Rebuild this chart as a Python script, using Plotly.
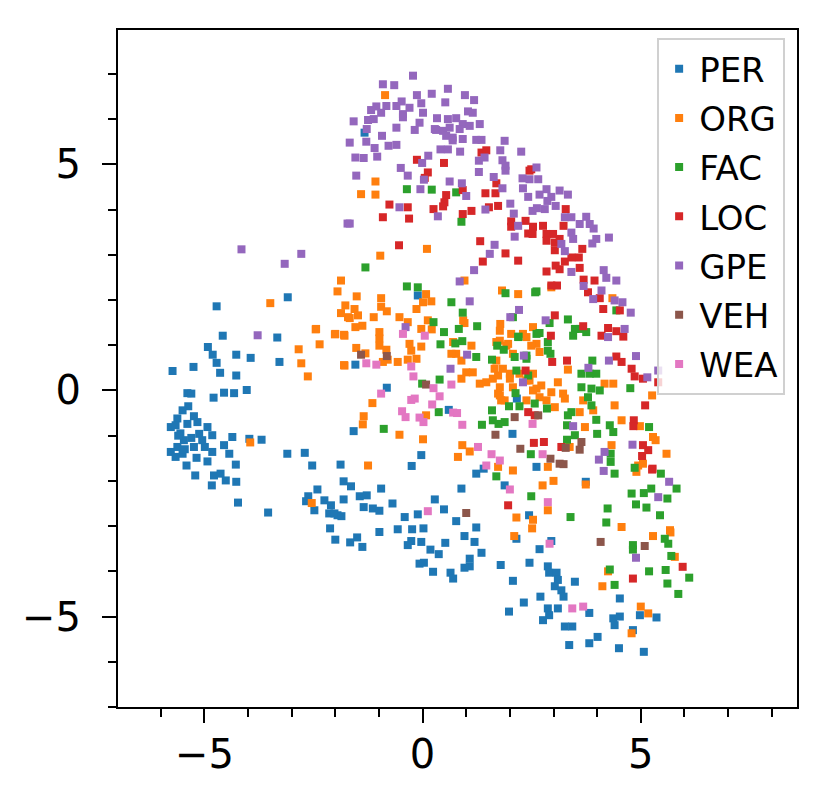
import plotly.graph_objects as go

# entity-type embedding (2D projection)
categories = ["PER", "ORG", "FAC", "LOC", "GPE", "VEH", "WEA"]
colors = ["#1f77b4", "#ff7f0e", "#2ca02c", "#d62728", "#9467bd", "#8c564b", "#e377c2"]

per_pts = [
    (-4.72, 1.86), (-3.09, 2.06), (-4.58, 1.21), (-3.33, 1.17), (-4.92, 0.96), (-4.81, 0.79), (-4.72, 0.61),
    (-4.27, 0.79), (-3.94, 0.72), (-3.28, 0.63), (-5.73, 0.43), (-5.25, 0.52), (-4.64, 0.39), (-4.27, 0.33),
    (-4.03, 0.01), (-4.32, -0.06), (-4.55, -0.05), (-4.79, -0.16), (-5.39, -0.06), (-5.30, -0.07), (-5.37, -0.35),
    (-5.50, -0.44), (-5.24, -0.57), (-5.62, -0.62), (-5.77, -0.81), (-5.66, -0.77), (-5.39, -0.74), (-5.16, -0.70),
    (-4.93, -0.81), (-5.12, -0.96), (-4.82, -0.99), (-5.47, -1.10), (-5.62, -1.25), (-5.77, -1.36), (-5.50, -1.40),
    (-5.66, -1.47), (-5.24, -1.25), (-4.99, -1.25), (-4.82, -1.36), (-5.18, -1.49), (-4.93, -1.57), (-5.41, -1.66),
    (-5.21, -1.88), (-4.78, -1.88), (-4.63, -1.84), (-4.83, -2.10), (-4.51, -1.99), (-4.27, -2.02), (-4.55, -1.21),
    (-4.36, -1.03), (-4.43, -1.40), (-4.28, -1.64), (-3.97, -1.07), (-3.69, -1.09), (-4.23, -2.48), (-3.54, -2.70),
    (-3.10, -1.40), (-2.70, -1.38), (-2.53, -1.66), (-1.88, -1.64), (-2.41, -2.19), (-2.62, -2.34), (-2.25, -2.43),
    (-2.10, -2.54), (-2.48, -2.65), (-2.14, -2.72), (-1.95, -2.76), (-1.81, -2.41), (-1.81, -2.01), (-2.12, -3.05),
    (-5.55, -0.95), (-5.30, -1.05), (-5.45, -1.30), (-5.05, -1.10), (-5.60, -1.00),
    (-1.33, 5.70), (-0.11, 2.10), (-1.54, 0.57), (-0.82, 0.06), (0.60, -0.43), (-1.58, -0.90), (2.16, -0.18),
    (2.06, -0.96), (-1.64, -2.12), (-0.95, -2.17), (-0.03, -1.43), (-0.25, -1.67), (1.23, -1.84), (1.40, -1.73),
    (0.89, -2.17), (1.88, -2.10), (2.61, -1.69), (3.74, -2.02), (2.44, -2.76),
    (-1.44, -2.34), (-1.28, -2.32), (-2.67, -2.45), (-2.02, -2.72), (-1.86, -2.78), (-1.35, -2.58), (-1.14, -2.61),
    (-0.99, -2.66), (-0.69, -2.50), (-2.00, -3.30), (-1.66, -3.36), (-1.50, -3.25), (-1.38, -3.46), (-0.99, -3.13),
    (-0.41, -2.80), (-0.11, -2.74), (0.28, -2.41), (0.49, -2.63), (-0.57, -3.07), (-0.24, -3.07), (0.02, -3.05),
    (-0.26, -3.33), (-0.34, -3.42), (-0.03, -3.35), (0.18, -3.52), (0.37, -3.62), (0.52, -3.37), (0.77, -2.89),
    (0.96, -3.22), (1.23, -3.03), (1.19, -3.35), (1.35, -3.59), (1.08, -3.72), (1.08, -3.89), (0.96, -3.92),
    (-0.07, -3.83), (0.03, -3.81), (0.24, -4.01), (0.64, -4.03), (0.70, -4.16), (1.79, -3.86), (2.07, -4.21),
    (2.45, -3.81), (2.15, -3.28), (2.68, -3.51), (2.87, -3.89), (2.90, -4.03), (3.07, -4.03), (3.10, -4.19),
    (3.03, -4.33), (3.18, -4.42), (3.23, -4.56), (3.49, -4.23), (2.70, -4.56), (2.32, -4.69), (1.98, -4.89),
    (2.87, -4.82), (3.10, -4.82), (2.90, -4.97), (2.76, -5.08), (3.26, -5.22), (3.43, -5.22), (3.82, -4.92),
    (3.36, -5.63), (3.82, -5.59), (4.01, -5.45), (2.95, -3.33), (4.37, -5.04), (4.52, -5.00), (4.40, -5.19),
    (4.52, -4.60), (4.82, -5.30), (4.98, -4.97), (5.36, -5.02), (4.50, -5.70), (5.07, -5.78),
]

org_pts = [
    (-3.49, 1.93), (-1.87, 2.43), (-1.95, 2.19), (-1.77, 1.88), (-1.87, 1.71), (-2.45, 1.35), (-2.01, 1.24),
    (-1.80, 1.23), (-2.36, 1.02), (-2.84, 0.91), (-2.78, 0.60), (-2.63, 0.31), (-1.80, 0.56), (-3.95, -1.15),
    (-2.54, -2.49),
    (-0.86, 6.53), (-1.08, 4.62), (-1.41, 4.34), (-1.08, 4.33), (-0.97, 2.98), (0.10, 3.13), (-1.51, 2.08),
    (0.96, 2.43), (1.82, 2.21), (2.19, 2.13), (-1.56, 1.80), (-1.71, 1.62), (-1.48, 1.66), (-1.38, 1.43),
    (-1.54, 1.40), (-1.12, 1.62), (-0.95, 2.04), (-0.95, 1.85), (-0.82, 1.75), (-0.53, 1.62), (-0.34, 1.51),
    (-0.14, 1.80), (0.01, 1.95), (0.08, 2.13), (0.20, 1.97), (0.12, 1.55), (-0.03, 1.36), (0.21, 1.35),
    (0.96, 1.49), (1.78, 1.47), (1.77, 1.32), (2.03, 1.25), (-2.44, 1.36), (-2.00, 1.25), (-1.79, 1.21),
    (-0.99, 1.29), (-0.99, 1.15),
    (2.95, 2.28), (4.35, 2.04), (2.30, 1.25),
    (-1.67, 1.60), (-1.52, 0.94), (-1.31, 0.82), (-0.99, 0.99), (-0.83, 0.90), (-0.80, 0.68), (-0.91, 0.63),
    (-1.79, 0.55), (-0.57, 0.63), (-0.34, 0.68), (-0.26, 0.88), (-0.14, 0.70), (-0.30, 1.03), (-0.03, 0.97),
    (-1.15, -0.28), (-1.35, -0.57), (-1.37, -0.75), (-0.53, -0.98), (0.01, -1.08), (0.08, -0.55), (-1.25, -1.66),
    (0.91, -1.21), (1.08, -1.35), (0.81, -1.47), (2.07, -1.77), (1.73, -1.69), (0.70, 1.07), (0.77, 0.81),
    (0.66, 0.81), (1.12, 0.99), (0.89, 0.66), (1.00, 0.40), (0.89, 0.26), (1.15, 0.40), (1.31, 0.15),
    (1.46, 0.18), (1.61, 0.26), (1.73, 0.33), (1.69, 0.66), (1.77, 1.10), (1.92, 0.99), (2.07, 0.81),
    (1.77, 0.07), (2.07, 0.07), (2.00, 0.37), (2.22, 0.37), (2.53, 0.37), (2.38, 0.22), (2.61, 0.04),
    (1.73, -0.07), (1.80, -0.22), (2.38, 1.18), (2.61, 1.03), (2.53, 1.40), (0.93, 1.55),
    (1.69, 1.07), (1.96, 1.03), (2.49, 0.99), (2.68, 0.85), (1.65, 0.48), (1.84, 0.48), (2.00, 0.26),
    (2.45, 0.22), (2.72, 0.11), (2.95, -0.04), (3.10, 0.18), (3.22, -0.07), (2.53, 0.00), (2.68, -0.15),
    (2.84, -0.22), (3.03, -0.37), (1.77, -0.11), (1.88, -0.22), (2.38, -0.22), (3.33, 0.46), (3.26, -0.18),
    (3.68, -0.22), (3.60, -0.48), (3.72, -0.81), (3.91, -0.44), (4.17, 0.15), (4.37, 0.15), (4.40, -0.33),
    (4.56, -0.66), (4.98, -0.79), (5.28, -1.03), (5.34, -1.10), (5.59, -1.40), (5.26, -0.11), (4.33, -1.21),
    (4.94, -1.66), (3.00, -2.00), (2.75, -2.10), (2.87, -2.65), (2.15, -2.81), (2.53, -2.86), (4.56, -3.02),
    (5.67, -3.09), (3.37, -1.25), (3.74, -2.08),
    (2.87, -1.69), (2.51, -3.05), (2.10, -3.22), (5.28, -3.22), (5.68, -3.14), (5.78, -3.68), (4.25, -4.00),
    (4.12, -4.33), (5.00, -4.78), (5.17, -4.93), (4.79, -5.37), (4.90, -1.80), (5.05, -1.62),
]

fac_pts = [
    (-0.36, 4.45), (0.21, 4.44), (0.77, 4.38), (0.89, 3.73), (-1.31, 2.72), (-0.36, 2.30), (-0.11, 2.28),
    (0.66, 1.95), (0.92, 1.72), (0.25, 1.51), (0.49, 1.29), (0.83, 1.36), (1.25, 1.42), (1.90, 2.15),
    (2.07, 1.62), (2.19, 1.18),
    (2.61, 2.19), (3.33, 1.57), (2.91, 1.49), (2.68, 1.27), (3.49, 1.36), (3.75, 1.29), (4.44, 1.77),
    (2.20, 1.19), (3.45, 1.21),
    (0.41, 1.02), (0.75, 1.04), (0.91, 1.09), (1.23, 0.74), (1.59, 0.68), (1.71, 0.99), (1.86, 0.90),
    (2.58, 2.17), (2.11, 0.74), (2.15, 0.44), (2.38, 0.77), (2.42, 0.33), (2.61, 1.25), (2.13, -0.06),
    (1.98, -0.35), (2.22, -0.35), (2.57, -0.29), (1.59, -0.44), (1.61, -0.66), (1.74, -0.74), (1.88, -0.70),
    (1.36, -0.76), (2.48, -1.41), (1.69, -1.90), (0.39, 0.24), (-0.01, 0.15), (0.37, -0.48), (-0.89, -0.85),
    (3.60, 1.36), (2.87, 1.07), (2.87, 0.88), (2.93, 0.81), (2.38, 0.70), (3.89, 0.66), (3.64, 0.37),
    (3.83, 0.37), (3.98, 0.37), (4.76, 0.05), (3.64, 0.07), (3.87, 0.04), (4.06, 0.00), (3.79, -0.15),
    (3.87, -0.33), (2.85, -0.40), (3.41, -0.48), (3.33, -0.55), (3.98, -0.65), (3.31, -0.77), (4.29, -0.77),
    (4.37, -0.92), (4.00, -0.96), (3.49, -0.99), (5.19, -0.81), (3.31, -1.09), (4.31, -1.40), (4.31, -1.58),
    (4.40, -1.84), (4.86, -1.71), (5.46, -1.84), (4.79, -2.28), (5.07, -2.27), (5.24, -2.17), (5.82, -2.17),
    (5.61, -2.39), (4.89, -2.52), (5.13, -2.59), (5.44, -2.76), (2.49, -2.34), (4.24, -2.61), (3.39, -2.80),
    (4.21, -2.92),
    (4.29, -3.96), (4.40, -4.30), (4.82, -3.42), (4.82, -3.52), (5.55, -3.28), (5.63, -3.39), (5.70, -3.66),
    (5.19, -4.00), (5.57, -3.97), (5.61, -4.27), (6.11, -4.14), (5.86, -4.50),
]

loc_pts = [
    (1.35, 5.26), (1.46, 5.31), (-0.13, 5.10), (0.49, 5.03), (0.12, 4.82), (0.05, 4.70), (0.54, 4.32),
    (0.50, 4.16), (0.47, 4.07), (0.92, 4.43), (1.44, 4.36), (1.67, 4.36), (1.73, 4.08), (1.52, 4.05),
    (1.12, 3.97), (0.92, 3.90), (0.25, 4.01), (-0.34, 4.05), (-0.76, 4.11), (-0.91, 3.83), (-0.31, 3.80),
    (1.69, 4.58), (2.03, 3.74), (2.36, 3.75), (2.45, 4.86), (2.42, 3.47), (-0.54, 3.21), (1.32, 3.30),
    (1.90, 3.03), (2.19, 2.87), (1.38, 2.85),
    (2.49, 4.89), (2.03, 3.62), (2.53, 3.62), (2.52, 3.46), (2.76, 3.64), (2.84, 3.46), (2.99, 3.46),
    (2.84, 3.31), (3.03, 3.27), (3.14, 3.35), (3.03, 3.10), (3.23, 3.64), (3.28, 4.01), (3.66, 3.13),
    (3.58, 2.94), (3.41, 2.94), (3.26, 2.85), (3.05, 2.76), (2.84, 2.63), (3.14, 2.68), (3.60, 2.71),
    (2.95, 2.32), (3.08, 2.32), (3.69, 2.45), (3.94, 2.43), (3.79, 2.17), (4.06, 2.04), (4.14, 1.80),
    (4.52, 1.77), (3.03, 1.66), (3.68, 1.42), (4.25, 1.38), (4.44, 1.31), (4.10, 1.21), (2.94, 1.21),
    (2.36, 0.44), (2.42, -0.48), (2.55, -1.16),
    (4.60, 1.19), (2.97, 0.63), (3.31, 0.66), (4.44, 0.75), (4.56, 0.63), (4.79, 0.48), (4.86, 0.31),
    (5.05, 0.26), (5.10, -0.33), (2.57, -0.55), (4.84, -0.66), (4.83, -0.79), (2.78, -1.14), (3.18, -1.25),
    (5.05, -1.21), (5.17, -1.32), (5.03, -1.45), (5.27, -1.73), (1.96, -2.54), (5.40, 0.18),
    (5.26, -1.75), (5.96, -3.90), (4.82, -4.16),
]

gpe_pts = [
    (-4.15, 3.12), (-3.16, 2.80), (-2.78, 3.02), (-3.78, 1.22), (-1.72, 3.69),
    (-0.22, 6.96), (-0.91, 6.77), (-0.65, 6.75), (-0.13, 6.53), (0.21, 6.56), (0.58, 6.67), (0.97, 6.53),
    (1.18, 6.42), (-0.48, 6.39), (-0.03, 6.35), (-1.06, 6.28), (-0.83, 6.29), (-0.60, 6.29), (-0.30, 6.25),
    (-1.18, 6.20), (-0.95, 6.14), (-0.45, 6.11), (0.01, 6.14), (0.52, 6.37), (1.04, 6.17), (1.15, 6.14),
    (-1.58, 5.95), (-1.25, 5.98), (-1.12, 6.00), (-0.60, 5.81), (-0.45, 6.04), (-0.18, 5.76), (-0.07, 5.92),
    (0.33, 6.02), (0.58, 6.00), (0.77, 6.02), (0.92, 5.89), (1.31, 5.89), (0.31, 5.76), (0.47, 5.74),
    (0.62, 5.81), (0.85, 5.78), (1.08, 5.85), (-1.28, 5.78), (-0.93, 5.63), (0.69, 5.59), (0.92, 5.56),
    (1.23, 5.54), (1.35, 5.54), (-1.67, 5.48), (-1.29, 5.50), (-1.10, 5.36), (-0.78, 5.41), (-0.60, 5.43),
    (-1.54, 5.15), (-1.35, 5.14), (-1.04, 5.17), (0.41, 5.33), (0.58, 5.33), (0.86, 5.28), (1.88, 5.52),
    (1.78, 5.31), (2.26, 5.28), (0.13, 5.19), (-0.01, 5.03), (-0.50, 4.92), (-0.34, 4.75), (-1.52, 4.75),
    (0.03, 4.66), (-0.05, 4.45), (0.62, 4.62), (0.90, 4.58), (1.00, 4.30), (1.29, 5.08), (1.42, 5.15),
    (1.83, 5.09), (1.90, 4.97), (1.29, 4.83), (1.63, 4.72), (1.83, 4.47), (2.29, 4.69), (2.30, 4.47),
    (2.01, 4.13), (2.09, 3.91), (2.19, 3.64), (2.11, 3.40), (1.44, 4.00), (0.35, 3.85), (-0.53, 4.05),
    (-1.67, 3.69), (1.65, 3.22), (1.54, 3.02), (1.18, 2.66), (0.85, 2.41), (1.08, 1.97), (2.21, 1.78),
    (2.01, 1.62), (-0.39, 1.40),
    (0.28, 5.78), (0.54, 5.63), (0.69, 5.53), (1.90, 4.86), (2.61, 4.93), (2.45, 4.67), (2.65, 4.67),
    (2.84, 4.45), (2.68, 4.33), (3.14, 4.42), (3.33, 4.33), (2.95, 4.28), (2.86, 4.19), (3.05, 4.08),
    (2.42, 4.28), (2.52, 3.97), (2.62, 4.03), (2.80, 4.01), (3.26, 3.83), (3.41, 3.83), (3.75, 3.84),
    (3.60, 3.68), (3.83, 3.68), (3.92, 3.58), (3.41, 3.49), (3.45, 3.35), (3.98, 3.35), (3.89, 3.25),
    (4.27, 3.38), (3.18, 3.24), (3.26, 3.08), (3.41, 2.62), (4.15, 2.66), (4.21, 2.49), (4.44, 2.43),
    (3.69, 2.31), (4.10, 2.21), (3.91, 2.02), (4.40, 1.99), (4.58, 1.95), (4.77, 1.72), (4.63, 1.36),
    (4.25, 1.18), (2.82, 1.55),
    (1.02, 0.79), (0.64, 0.48), (2.32, 0.77), (2.30, 0.18),
    (4.89, 0.76), (4.27, 0.66), (3.80, 0.50), (5.15, 0.29), (5.40, 0.44), (3.45, -0.79), (4.17, -1.36),
    (4.04, -1.53), (4.15, -1.78), (4.81, -1.20), (5.65, -2.02), (5.40, -2.36), (4.89, -3.70),
]

veh_pts = [
    (-1.41, 0.79), (-0.82, 0.76), (0.08, 0.13), (2.11, -0.59), (1.67, -0.98), (2.24, -1.29), (2.65, -0.55),
    (3.28, -1.27), (3.64, -1.14), (3.60, -1.31), (2.93, -1.51), (3.14, -1.62), (3.23, -1.63), (1.00, -2.71),
    (4.08, -3.35), (5.09, -3.44),
]

wea_pts = [
    (-0.45, 1.25), (0.05, 1.21), (-1.29, 0.60), (-1.06, 0.57), (-0.26, 0.53), (-0.21, 0.31), (0.66, 0.13),
    (0.25, 0.05), (0.39, -0.13), (0.22, -0.31), (-0.95, -0.07), (-0.26, -0.21), (-0.18, -0.18), (-0.47, -0.46),
    (-0.39, -0.59), (-0.07, -0.60), (0.02, -0.70), (0.70, -0.49), (0.79, -0.50), (0.91, -0.76), (1.27, -1.25),
    (1.58, -1.41), (1.77, -1.55), (1.46, -1.66), (2.52, -0.74), (2.00, -2.19), (2.75, -1.41), (2.87, -2.47),
    (0.12, -2.67), (2.91, -3.39), (3.43, -4.82), (3.68, -4.78),
]

all_pts = [per_pts, org_pts, fac_pts, loc_pts, gpe_pts, veh_pts, wea_pts]

fig = go.Figure()
for name, pts, col in zip(categories, all_pts, colors):
    xs = [p[0] for p in pts]
    ys = [p[1] for p in pts]
    fig.add_trace(go.Scatter(
        x=xs, y=ys, mode="markers", name=name, legendgroup=name,
        marker=dict(symbol="square", size=8, color=col, line=dict(width=0)),
    ))

axis_style = dict(
    showgrid=False, zeroline=False,
    showline=True, linecolor="black", linewidth=2, mirror=True,
    ticks="outside", ticklen=14, tickwidth=2, tickcolor="black",
    tick0=0, dtick=5,
    minor=dict(ticks="outside", ticklen=8, tickwidth=1.6, tickcolor="black", dtick=1, showgrid=False),
    tickfont=dict(family="DejaVu Sans", size=40, color="black"),
)

# the page body adds an 8px offset, so the margins are shifted to compensate
fig.update_layout(
    width=829, height=804,
    margin=dict(l=110, r=40, t=22, b=105),
    paper_bgcolor="white", plot_bgcolor="white",
    font=dict(family="DejaVu Sans", color="black"),
    xaxis=dict(range=[-6.98, 8.58], ticklabelstandoff=-3, **axis_style),
    yaxis=dict(range=[-7.0, 7.97], ticklabelstandoff=13, **axis_style),
    legend=dict(
        x=0.794, y=0.988, xanchor="left", yanchor="top",
        bgcolor="rgba(255,255,255,0.8)", bordercolor="#d0d0d0", borderwidth=2,
        font=dict(family="DejaVu Sans", size=34, color="black"),
        tracegroupgap=2, itemsizing="trace",
    ),
)

fig.write_html("out.html")
